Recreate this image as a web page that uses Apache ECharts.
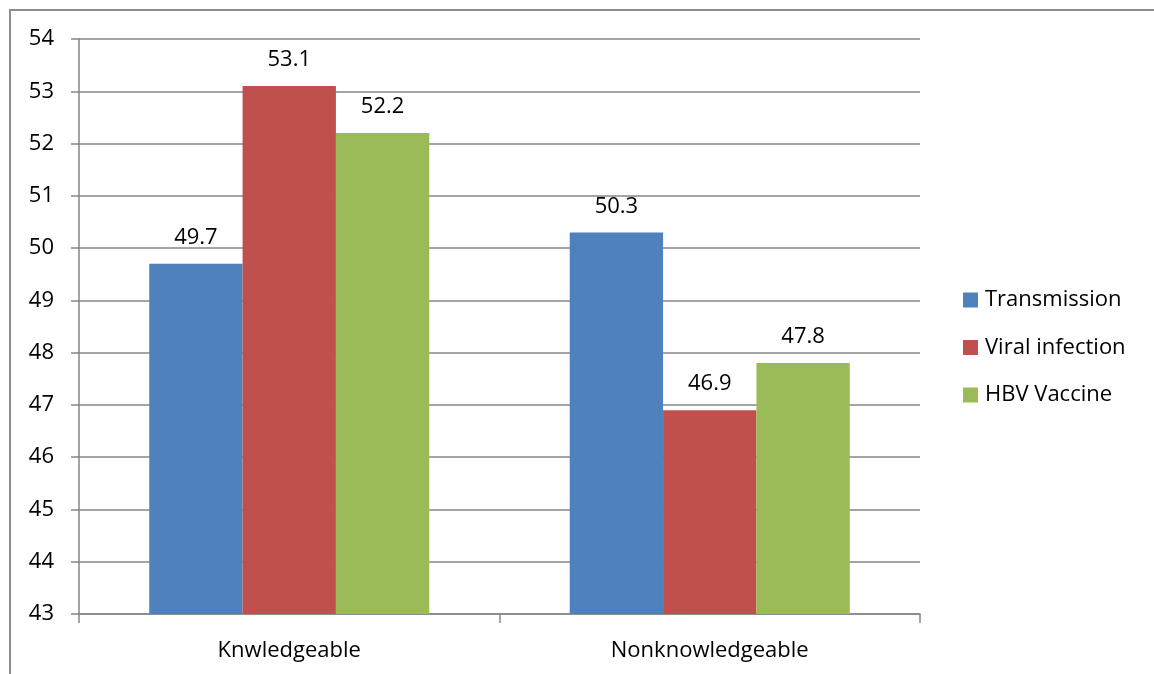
<!DOCTYPE html>
<html>
<head>
<meta charset="utf-8">
<script src="https://cdn.jsdelivr.net/npm/echarts@6/dist/echarts.min.js"></script>
<style>
  html, body { margin: 0; padding: 0; background: #fff; }
  #chart { width: 1154px; height: 674px; }
</style>
</head>
<body>
<div id="chart"></div>
<script>
const categories = ['Knwledgeable', 'Nonknowledgeable'];
const seriesNames = ['Transmission', 'Viral infection', 'HBV Vaccine'];
const transmission = [49.7, 50.3];
const viralInfection = [53.1, 46.9];
const hbvVaccine = [52.2, 47.8];
const yTicks = { min: 43, max: 54, step: 1 };

const colors = ['#4F81BD', '#C0504D', '#9BBB59'];
const valueSets = [transmission, viralInfection, hbvVaccine];
const font = '"Open Sans", Lato, sans-serif';
const fs = 22;

const chart = echarts.init(document.getElementById('chart'));
chart.setOption({
  animation: false,
  textStyle: { fontFamily: font },
  graphic: [{
    type: 'rect',
    shape: { x: 10, y: 10, width: 1200, height: 700 },
    style: { fill: 'none', stroke: '#8c8c8c', lineWidth: 2 },
    silent: true
  }],
  grid: { left: 79, top: 39, right: 234, bottom: 60 },
  legend: {
    orient: 'vertical',
    left: 963,
    top: 289,
    padding: 0,
    itemWidth: 15,
    itemHeight: 15,
    itemGap: 25.5,
    icon: 'rect',
    textStyle: { fontSize: fs, color: '#000', fontFamily: font, padding: [0, 0, 0, 2] },
    data: seriesNames
  },
  xAxis: {
    type: 'category',
    data: categories,
    axisLine: { lineStyle: { color: '#868686', width: 1.5 } },
    axisTick: { show: true, length: 9, lineStyle: { color: '#868686', width: 1.5 } },
    axisLabel: { fontSize: fs, color: '#000', margin: 26, fontFamily: font }
  },
  yAxis: {
    type: 'value',
    min: yTicks.min,
    max: yTicks.max,
    interval: yTicks.step,
    axisLine: { show: true, lineStyle: { color: '#868686', width: 1.5 } },
    axisTick: { show: true, length: 8, lineStyle: { color: '#868686', width: 1.5 } },
    axisLabel: { fontSize: fs, color: '#000', margin: 25, fontFamily: font },
    splitLine: { lineStyle: { color: '#868686', width: 1.5 } }
  },
  series: seriesNames.map((name, i) => ({
    name,
    type: 'bar',
    data: valueSets[i],
    barGap: '0%',
    barCategoryGap: '33.4%',
    itemStyle: { color: colors[i] },
    label: {
      show: true,
      position: 'top',
      distance: 15,
      fontSize: fs,
      color: '#000',
      fontFamily: font,
      formatter: p => p.value.toFixed(1)
    }
  }))
});
</script>
</body>
</html>
